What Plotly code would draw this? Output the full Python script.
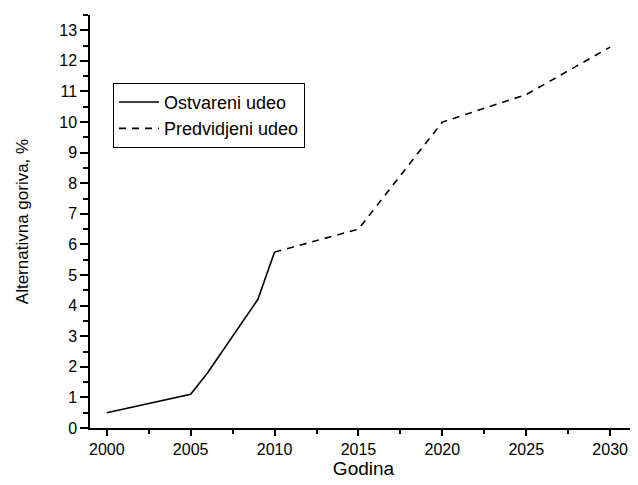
import plotly.graph_objects as go

years_actual = [2000, 2005, 2006, 2007, 2008, 2009, 2010]
share_actual = [0.5, 1.1, 1.8, 2.6, 3.4, 4.2, 5.75]
years_forecast = [2010, 2015, 2020, 2025, 2030]
share_forecast = [5.75, 6.5, 10.0, 10.9, 12.45]

x_ticks = [2000, 2005, 2010, 2015, 2020, 2025, 2030]
y_ticks = list(range(0, 14))

FONT = "Arial, Liberation Sans, sans-serif"

fig = go.Figure()
fig.add_trace(go.Scatter(x=years_actual, y=share_actual, mode="lines",
                         name="Ostvareni udeo",
                         line=dict(color="black", width=1.6)))
fig.add_trace(go.Scatter(x=years_forecast, y=share_forecast, mode="lines",
                         name="Predvidjeni udeo",
                         line=dict(color="black", width=1.6, dash="7px,6px")))

# page body has an 8px margin, so the figure is sized to fill the rest
fig.update_layout(
    width=630, height=477,
    margin=dict(l=82, r=1, t=7, b=57),
    paper_bgcolor="white", plot_bgcolor="white",
    font=dict(family=FONT, color="black", size=16),
    showlegend=True,
    legend=dict(x=0.042, y=0.836, xanchor="left", yanchor="top",
                bgcolor="white", bordercolor="black", borderwidth=1,
                itemwidth=40,
                font=dict(size=18, family=FONT), tracegroupgap=0),
    xaxis=dict(range=[1999, 2031.6], tickvals=x_ticks,
               ticktext=[str(v) for v in x_ticks],
               showgrid=False, zeroline=False, showline=True,
               linecolor="black", linewidth=1.5,
               ticks="outside", ticklen=6, tickwidth=1.5, tickcolor="black",
               minor=dict(dtick=2.5, tick0=2000, ticks="outside", ticklen=4,
                          tickwidth=1.5, tickcolor="black", showgrid=False),
               tickfont=dict(size=16),
               title=dict(text="Godina", font=dict(size=19), standoff=0)),
    yaxis=dict(range=[0, 13.5], tickvals=y_ticks,
               showgrid=False, zeroline=False, showline=True,
               linecolor="black", linewidth=1.5,
               ticks="outside", ticklen=8, tickwidth=1.5, tickcolor="black",
               minor=dict(dtick=0.5, tick0=0, ticks="outside", ticklen=5,
                          tickwidth=1.5, tickcolor="black", showgrid=False),
               tickfont=dict(size=16),
               title=dict(text="Alternativna goriva, %", font=dict(size=17), standoff=26)),
)

fig.write_html("out.html")
